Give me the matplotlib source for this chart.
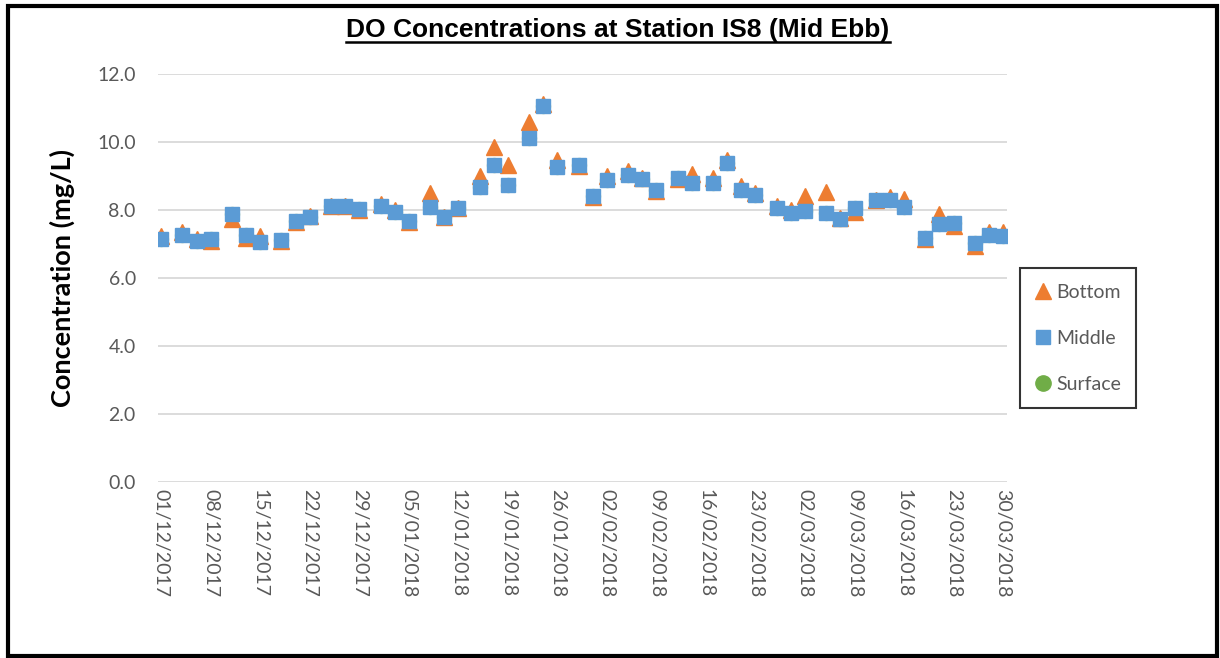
import matplotlib
matplotlib.use("Agg")
import matplotlib.pyplot as plt
import matplotlib.dates as mdates
from matplotlib.lines import Line2D
from matplotlib.patches import Rectangle
import datetime as dt

# ---------------- data ----------------
start_date = dt.date(2017, 12, 1)
day_offsets = [0, 3, 5, 7, 10, 12, 14, 17, 19, 21, 24, 26, 28, 31, 33, 35, 38, 40, 42,
               45, 47, 49, 52, 54, 56, 59, 61, 63, 66, 68, 70, 73, 75, 78, 80, 82, 84,
               87, 89, 91, 94, 96, 98, 101, 103, 105, 108, 110, 112, 115, 117, 119]
middle = [7.15, 7.26, 7.09, 7.15, 7.88, 7.26, 7.06, 7.12, 7.68, 7.80, 8.12, 8.12, 8.03,
          8.12, 7.94, 7.68, 8.09, 7.79, 8.06, 8.68, 9.32, 8.74, 10.12, 11.06, 9.26, 9.32,
          8.41, 8.88, 9.02, 8.91, 8.59, 8.94, 8.79, 8.79, 9.38, 8.59, 8.44, 8.06, 7.91,
          7.97, 7.91, 7.74, 8.06, 8.29, 8.29, 8.09, 7.18, 7.59, 7.62, 7.03, 7.26, 7.24]
bottom = [7.25, 7.34, 7.16, 7.09, 7.74, 7.18, 7.25, 7.09, 7.66, 7.82, 8.13, 8.13, 8.00,
          8.19, 7.99, 7.66, 8.51, 7.78, 8.05, 8.99, 9.85, 9.32, 10.59, 11.13, 9.46, 9.30,
          8.38, 8.99, 9.14, 8.94, 8.55, 8.90, 9.07, 8.93, 9.46, 8.72, 8.49, 8.12, 8.00,
          8.40, 8.54, 7.76, 7.94, 8.28, 8.37, 8.31, 7.16, 7.87, 7.53, 6.94, 7.34, 7.34]
surface = list(middle)  # hidden behind the Middle markers in the reference

title = "DO Concentrations at Station IS8 (Mid Ebb)"
ylabel = "Concentration (mg/L)"
y_ticks = [0.0, 2.0, 4.0, 6.0, 8.0, 10.0, 12.0]

dates = [start_date + dt.timedelta(days=d) for d in day_offsets]

# ---------------- style ----------------
C_BOTTOM = "#ED7D31"
C_MIDDLE = "#5B9BD5"
C_SURFACE = "#70AD47"
TXT = "#595959"
GRID = "#D9D9D9"
FONT = ["Lato", "DejaVu Sans"]

W, H = 1220, 658
fig = plt.figure(figsize=(W / 100, H / 100), dpi=100)
ax = fig.add_axes([158 / W, 1 - 482 / H, (1007 - 158) / W, (482 - 74) / H])

ax.plot(dates, surface, linestyle="none", marker="o", ms=10, color=C_SURFACE,
        label="Surface", zorder=2)
ax.plot(dates, bottom, linestyle="none", marker="^", ms=12, color=C_BOTTOM,
        label="Bottom", zorder=3)
ax.plot(dates, middle, linestyle="none", marker="s", ms=10.5, color=C_MIDDLE,
        label="Middle", zorder=4)

ax.set_ylim(0, 12)
ax.set_yticks(y_ticks)
ax.set_yticklabels([f"{v:.1f}" for v in y_ticks], fontsize=14, color=TXT, family=FONT)
x0 = mdates.date2num(start_date)
ax.set_xlim(x0 - 0.45, x0 + 119.55)
tick_dates = [start_date + dt.timedelta(days=7 * i) for i in range(18)]
ax.set_xticks([mdates.date2num(d) for d in tick_dates])
ax.set_xticklabels([d.strftime("%d/%m/%Y") for d in tick_dates], rotation=270,
                   fontsize=14, color=TXT, family=FONT, va="top", ha="center")
ax.tick_params(axis="both", length=0)
ax.tick_params(axis="y", pad=16)
ax.tick_params(axis="x", pad=5)
for s in ax.spines.values():
    s.set_visible(False)
ax.grid(axis="y", color=GRID, linewidth=1.3)
ax.set_axisbelow(True)

ax.set_ylabel(ylabel, fontsize=19.5, fontweight="bold", family=FONT, color="black",
              labelpad=16)

# legend
handles = [Line2D([], [], linestyle="none", marker="^", ms=12, color=C_BOTTOM),
           Line2D([], [], linestyle="none", marker="s", ms=10.5, color=C_MIDDLE),
           Line2D([], [], linestyle="none", marker="o", ms=11, color=C_SURFACE)]
leg = fig.legend(handles, ["Bottom", "Middle", "Surface"], loc="upper left",
                 bbox_to_anchor=(1020 / W, 1 - 268 / H), frameon=True, fancybox=False,
                 prop={"family": FONT, "size": 14}, labelcolor=TXT, handlelength=0.8,
                 handletextpad=0.25, labelspacing=1.5, borderpad=0.8, borderaxespad=0)
leg.get_frame().set_edgecolor("black")
leg.get_frame().set_linewidth(1.5)

# title with underline
t = fig.text(618 / W, 1 - 30 / H, title, ha="center", va="center", fontsize=19,
             fontweight="bold", family=["Liberation Sans Narrow", "Liberation Sans"],
             color="black")
fig.canvas.draw()
bb = t.get_window_extent(renderer=fig.canvas.get_renderer())
uy = (bb.y0 + 0.5) / H
fig.add_artist(Line2D([bb.x0 / W, bb.x1 / W], [uy, uy], transform=fig.transFigure,
                      color="black", linewidth=1.8))

# outer frame
fig.add_artist(Rectangle((8 / W, 2 / H), (1217 - 8) / W, (652 - 2) / H,
                         transform=fig.transFigure, fill=False, edgecolor="black",
                         linewidth=3))

fig.savefig("out.png", dpi=100)
